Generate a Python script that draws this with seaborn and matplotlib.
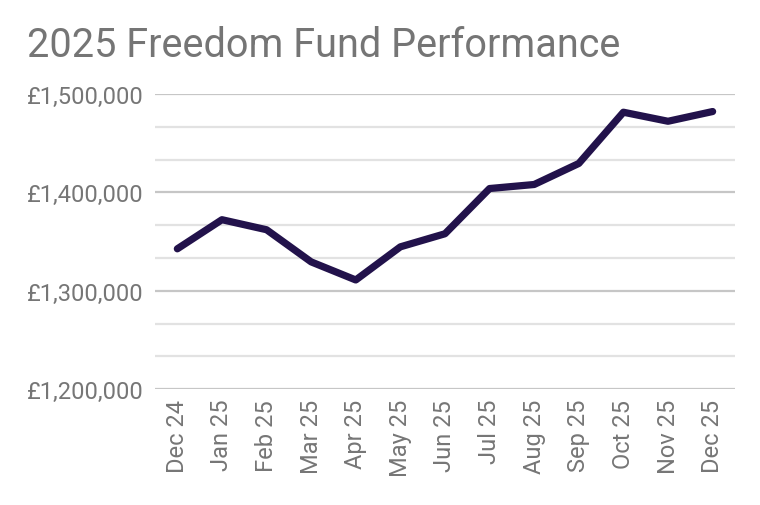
import pandas as pd
import matplotlib.pyplot as plt
import matplotlib.ticker as mticker
import seaborn as sns

months = ["Dec 24", "Jan 25", "Feb 25", "Mar 25", "Apr 25", "May 25", "Jun 25",
          "Jul 25", "Aug 25", "Sep 25", "Oct 25", "Nov 25", "Dec 25"]
values = [1342700, 1372300, 1362100, 1329400, 1311000, 1344700, 1358000,
          1404000, 1408100, 1429500, 1481600, 1472400, 1482300]
y_ticks = [1200000, 1300000, 1400000, 1500000]

df = pd.DataFrame({"Month": months, "Value": values})

sns.set_style("white")
plt.rcParams["font.family"] = ["Roboto", "DejaVu Sans"]

fig = plt.figure(figsize=(7.6, 5.06), dpi=100)
ax = fig.add_axes([0.204, 0.229, 0.763, 0.583])

sns.lineplot(x="Month", y="Value", data=df, color="#22124b", linewidth=5.2,
             ax=ax, zorder=3)

ax.set_xlim(-0.5, len(months) - 0.5)
ax.set_ylim(1200000, 1500000)
ax.set_yticks(y_ticks)
ax.yaxis.set_minor_locator(mticker.MultipleLocator(100000 / 3))
ax.yaxis.set_major_formatter(mticker.FuncFormatter(lambda v, p: f"£{v:,.0f}"))
ax.grid(axis="y", which="major", color="#c6c6c6", linewidth=1.6)
ax.grid(axis="y", which="minor", color="#e2e2e2", linewidth=1.6)
ax.set_axisbelow(True)

for s in ["top", "right", "left", "bottom"]:
    ax.spines[s].set_visible(False)

ax.tick_params(axis="both", which="both", length=0, labelsize=17, labelcolor="#767676")
ax.tick_params(axis="y", pad=8)
ax.tick_params(axis="x", pad=7)
plt.setp(ax.get_xticklabels(), rotation=90)
ax.set_xlabel("")
ax.set_ylabel("")

fig.text(0.035, 0.91, "2025 Freedom Fund Performance", fontsize=28.5, color="#757575",
         ha="left", va="center")

fig.savefig("out.png", dpi=100, facecolor="white")
